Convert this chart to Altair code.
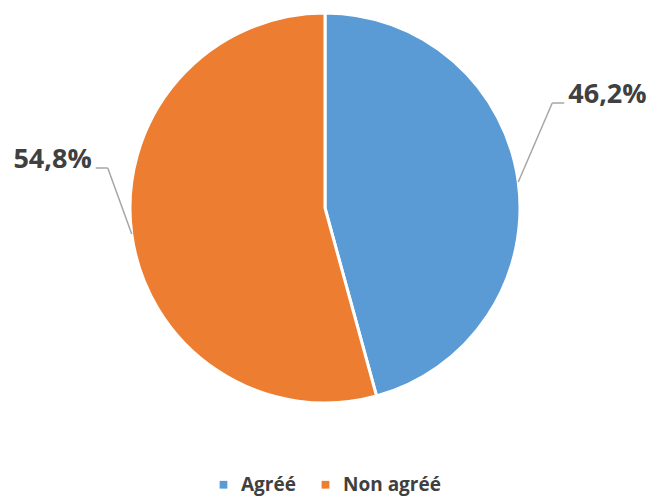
import altair as alt
import pandas as pd

categories = ["Agréé", "Non agréé"]
values = [46.2, 54.8]
labels = ["46,2%", "54,8%"]
colors = ["#5B9BD5", "#ED7D31"]

df = pd.DataFrame({"cat": categories, "value": values, "label": labels, "idx": [0, 1]})

CX, CY, R = 325, 208, 195
FONT = "Open Sans"

base = alt.Chart(df)

arc = base.mark_arc(outerRadius=R, stroke="white", strokeWidth=3).encode(
    theta=alt.Theta("value:Q", stack=True),
    order=alt.Order("idx:Q"),
    color=alt.Color(
        "cat:N",
        scale=alt.Scale(domain=categories, range=colors),
        sort=categories,
        legend=alt.Legend(
            title=None, orient="none", legendX=214, legendY=475, direction="horizontal",
            symbolType="square", symbolSize=60, symbolStrokeWidth=0,
            labelFont=FONT, labelFontWeight="bold", labelFontSize=19, labelColor="#404040",
            columnPadding=20, labelOffset=8,
        ),
    ),
    x=alt.value(CX),
    y=alt.value(CY),
)

geo = (
    base.transform_joinaggregate(total="sum(value)")
    .transform_window(cum="sum(value)", sort=[alt.SortField("idx")], frame=[None, 0])
    .transform_calculate(mid="2*PI*(datum.cum - datum.value/2)/datum.total")
    .transform_calculate(
        ax=f"{CX} + {R}*sin(datum.mid)",
        ay=f"{CY} - {R}*cos(datum.mid)",
        side="sin(datum.mid) >= 0 ? 1 : -1",
    )
    .transform_calculate(
        ex="datum.ax + (datum.side > 0 ? 34 : -24)",
        ey="datum.ay - (datum.side > 0 ? 79 : 66)",
    )
    .transform_calculate(
        hx="datum.ex + datum.side*12",
        lx="datum.ex + datum.side*16",
        ly="datum.ey - 8",
    )
)

seg1 = geo.mark_rule(color="#A6A6A6", strokeWidth=1.5).encode(
    x=alt.X("ax:Q", scale=None), y=alt.Y("ay:Q", scale=None),
    x2="ex:Q", y2="ey:Q",
)
seg2 = geo.mark_rule(color="#A6A6A6", strokeWidth=1.5).encode(
    x=alt.X("ex:Q", scale=None), y=alt.Y("ey:Q", scale=None),
    x2="hx:Q", y2="ey:Q",
)
txt_r = geo.transform_filter("datum.side > 0").mark_text(
    align="left", baseline="middle", font=FONT, fontWeight="bold", fontSize=27, color="#404040"
).encode(x=alt.X("lx:Q", scale=None), y=alt.Y("ly:Q", scale=None), text="label:N")
txt_l = geo.transform_filter("datum.side < 0").mark_text(
    align="right", baseline="middle", font=FONT, fontWeight="bold", fontSize=27, color="#404040"
).encode(x=alt.X("lx:Q", scale=None), y=alt.Y("ly:Q", scale=None), text="label:N")

chart = (
    alt.layer(arc, seg1, seg2, txt_r, txt_l)
    .properties(width=653, height=497, autosize=alt.AutoSizeParams(type="none"), padding=0)
    .configure_view(stroke=None)
)

chart.save("out.html", embed_options={"renderer": "svg", "actions": False})
